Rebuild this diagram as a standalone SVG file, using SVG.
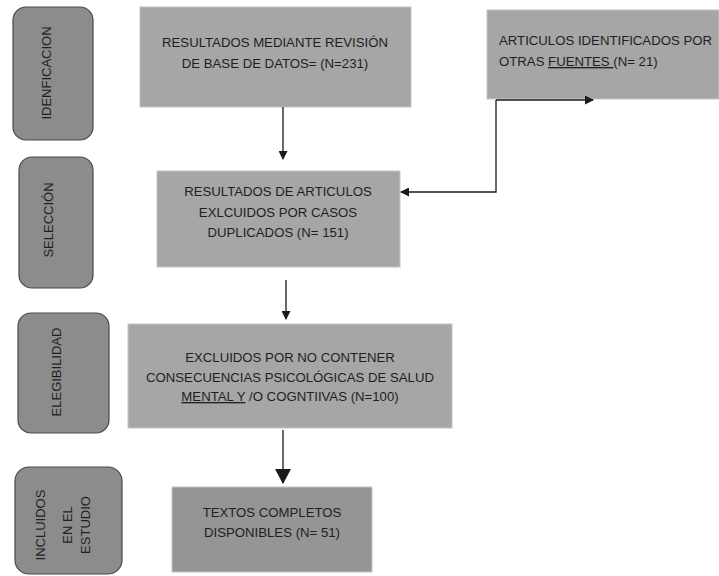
<svg xmlns="http://www.w3.org/2000/svg" width="719" height="576" viewBox="0 0 719 576">
<style>
.side{fill:#8c8c8c;stroke:#4a4a4a;stroke-width:1.2}
.box{fill:#a6a6a6;stroke:#c4c4c4;stroke-width:1}
.t{font-family:"Liberation Sans",Arial,sans-serif;font-size:13.2px;fill:#1f1f1f;text-anchor:middle}
.v{font-family:"Liberation Sans",Arial,sans-serif;font-size:13px;fill:#1f1f1f;text-anchor:middle}
.c{stroke:#1a1a1a;stroke-width:1.3;fill:none}
</style>
<defs>
<marker id="ah" markerWidth="9" markerHeight="9" refX="8" refY="4.5" orient="auto" markerUnits="userSpaceOnUse">
<path d="M0,0 L9,4.5 L0,9 z" fill="#1a1a1a"/>
</marker>
<marker id="ahb" markerWidth="15" markerHeight="16" refX="14" refY="8" orient="auto" markerUnits="userSpaceOnUse">
<path d="M0,0 L15,8 L0,16 z" fill="#1a1a1a"/>
</marker>
</defs>
<rect width="719" height="576" fill="#ffffff"/>

<g id="side-identificacion">
<rect class="side" x="13" y="7" width="80" height="133" rx="13"/>
<text class="v" transform="translate(51,73) rotate(-90)">IDENFICACION</text>
</g>
<g id="side-seleccion">
<rect class="side" x="19" y="157" width="74" height="131" rx="13"/>
<text class="v" transform="translate(53,220) rotate(-90)">SELECCIÓN</text>
</g>
<g id="side-elegibilidad">
<rect class="side" x="18" y="313" width="91" height="120" rx="13"/>
<text class="v" transform="translate(61,372) rotate(-90)">ELEGIBILIDAD</text>
</g>
<g id="side-incluidos">
<rect class="side" x="15" y="467" width="107" height="107" rx="14"/>
<text class="v" transform="translate(45,525) rotate(-90)">INCLUIDOS</text>
<text class="v" transform="translate(72,525) rotate(-90)">EN EL</text>
<text class="v" transform="translate(90,525) rotate(-90)">ESTUDIO</text>
</g>

<g id="box-base-datos">
<rect class="box" x="140" y="7" width="271" height="100"/>
<text class="t" x="275" y="47">RESULTADOS MEDIANTE REVISIÓN</text>
<text class="t" x="275" y="68">DE BASE DE DATOS= (N=231)</text>
</g>
<g id="box-otras-fuentes">
<rect class="box" x="487" y="10" width="232" height="89"/>
<text class="t" x="499" y="45" style="text-anchor:start">ARTICULOS IDENTIFICADOS POR</text>
<text class="t" x="499" y="66" style="text-anchor:start">OTRAS <tspan text-decoration="underline">FUENTES  </tspan>(N= 21)</text>
</g>
<g id="box-duplicados">
<rect class="box" x="157" y="171" width="243" height="96"/>
<text class="t" x="278" y="196">RESULTADOS DE ARTICULOS</text>
<text class="t" x="278" y="217">EXLCUIDOS POR CASOS</text>
<text class="t" x="278" y="237">DUPLICADOS (N= 151)</text>
</g>
<g id="box-excluidos">
<rect class="box" x="128" y="324" width="324" height="104"/>
<text class="t" x="290" y="362">EXCLUIDOS POR NO CONTENER</text>
<text class="t" x="290" y="382">CONSECUENCIAS PSICOLÓGICAS DE SALUD</text>
<text class="t" x="290" y="401"><tspan text-decoration="underline">MENTAL  Y</tspan> /O COGNTIIVAS (N=100)</text>
</g>
<g id="box-textos">
<rect class="box" x="172" y="487" width="200" height="85" style="fill:#959595"/>
<text class="t" x="272" y="517">TEXTOS COMPLETOS</text>
<text class="t" x="272" y="537">DISPONIBLES (N= 51)</text>
</g>

<g id="connectors">
<line class="c" x1="283" y1="107" x2="283" y2="159" marker-end="url(#ah)"/>
<line class="c" x1="496" y1="100" x2="593" y2="100" marker-end="url(#ah)"/>
<polyline class="c" points="496,100 496,192 401,192" marker-end="url(#ah)"/>
<line class="c" x1="286" y1="280" x2="286" y2="319" marker-end="url(#ah)"/>
<line class="c" x1="283" y1="430" x2="283" y2="483" stroke-width="2" marker-end="url(#ahb)"/>
</g>
</svg>
